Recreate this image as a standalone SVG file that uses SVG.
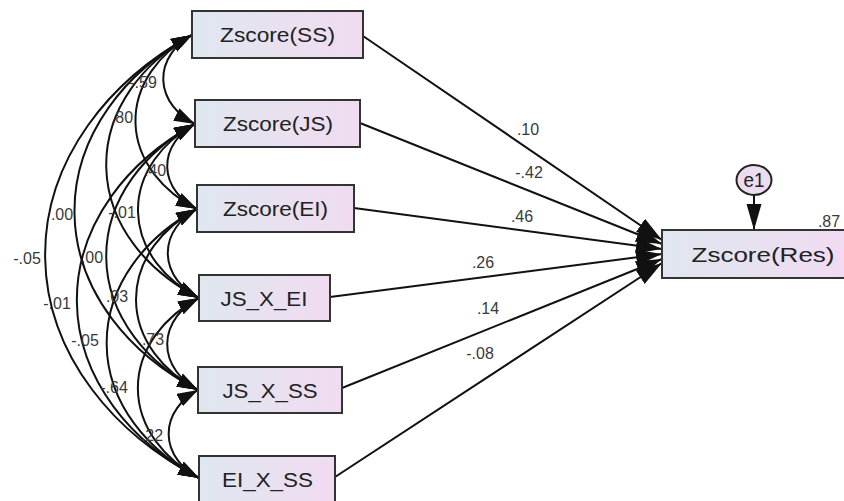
<svg xmlns="http://www.w3.org/2000/svg" width="844" height="501" viewBox="0 0 844 501">
<defs>
<linearGradient id="boxfill" x1="0" y1="0" x2="1" y2="0">
<stop offset="0" stop-color="#dfe7ef"/>
<stop offset="1" stop-color="#f1dbf1"/>
</linearGradient>
<marker id="ah" markerUnits="userSpaceOnUse" markerWidth="24" markerHeight="16" refX="21" refY="7" orient="auto-start-reverse">
<path d="M0,0 L21,7 L0,14 Z" fill="#111"/>
</marker>
<marker id="ahb" markerUnits="userSpaceOnUse" markerWidth="28" markerHeight="18" refX="26" refY="8" orient="auto">
<path d="M0,0 L26,8 L0,16 Z" fill="#111"/>
</marker>
<marker id="ahe" markerUnits="userSpaceOnUse" markerWidth="28" markerHeight="18" refX="26" refY="7.5" orient="auto">
<path d="M0,0 L26,7.5 L0,15 Z" fill="#111"/>
</marker>
</defs>
<style>
.box{fill:url(#boxfill);stroke:#333;stroke-width:2}
.nt{font-family:"Liberation Sans",Arial,sans-serif;font-size:20px;fill:#222;text-anchor:middle}
.lbl{font-family:"Liberation Sans",Arial,sans-serif;font-size:16px;fill:#3a3a3a;text-anchor:middle}
.reg{fill:none;stroke:#111;stroke-width:2;marker-end:url(#ahb)}
.cov{fill:none;stroke:#111;stroke-width:2;marker-start:url(#ah);marker-end:url(#ah)}
</style>
<rect width="844" height="501" fill="#fff"/>

<g id="connectors">
<g id="regressions">
<line class="reg" x1="363" y1="36" x2="662" y2="240"/>
<line class="reg" x1="360" y1="123" x2="662" y2="244"/>
<line class="reg" x1="354" y1="208" x2="662" y2="249"/>
<line class="reg" x1="330" y1="297" x2="662" y2="254"/>
<line class="reg" x1="342" y1="388" x2="662" y2="259"/>
<line class="reg" x1="335" y1="477" x2="662" y2="263"/>
<line x1="754" y1="195" x2="754" y2="230" stroke="#111" stroke-width="2" marker-end="url(#ahe)"/>
</g>
<g id="covariances">
<path class="cov" d="M192,35 A70.4,54.2 0 0 0 195,124"/>
<path class="cov" d="M192,35 A137.6,106 0 0 0 197,209"/>
<path class="cov" d="M192,35 A208,160.2 0 0 0 199,298"/>
<path class="cov" d="M192,35 A280.8,216.2 0 0 0 198,390"/>
<path class="cov" d="M192,35 A350.4,269.8 0 0 0 199,478"/>
<path class="cov" d="M195,124 A67.2,51.8 0 0 0 197,209"/>
<path class="cov" d="M195,124 A137.6,106 0 0 0 199,298"/>
<path class="cov" d="M195,124 A210.4,162 0 0 0 198,390"/>
<path class="cov" d="M195,124 A280,215.6 0 0 0 199,478"/>
<path class="cov" d="M197,209 A70.4,54.2 0 0 0 199,298"/>
<path class="cov" d="M197,209 A143.2,110.2 0 0 0 198,390"/>
<path class="cov" d="M197,209 A212.8,163.8 0 0 0 199,478"/>
<path class="cov" d="M199,298 A72.8,56 0 0 0 198,390"/>
<path class="cov" d="M199,298 A142.4,109.6 0 0 0 199,478"/>
<path class="cov" d="M198,390 A69.6,53.6 0 0 0 199,478"/>
</g>
</g>

<g id="labels">
<text class="lbl" x="143" y="88">-.59</text>
<text class="lbl" x="122" y="123">.80</text>
<text class="lbl" x="155" y="176">.40</text>
<text class="lbl" x="62" y="220">.00</text>
<text class="lbl" x="122" y="218">-.01</text>
<text class="lbl" x="27" y="264">-.05</text>
<text class="lbl" x="92" y="263">.00</text>
<text class="lbl" x="57" y="309">-.01</text>
<text class="lbl" x="117" y="302">.03</text>
<text class="lbl" x="85" y="346">-.05</text>
<text class="lbl" x="153" y="345">.73</text>
<text class="lbl" x="114" y="393">-.64</text>
<text class="lbl" x="152" y="441">.22</text>
<text class="lbl" x="528" y="135">.10</text>
<text class="lbl" x="529" y="178">-.42</text>
<text class="lbl" x="522" y="222">.46</text>
<text class="lbl" x="483" y="268">.26</text>
<text class="lbl" x="488" y="314">.14</text>
<text class="lbl" x="480" y="359">-.08</text>
<text class="lbl" x="829" y="227">.87</text>
</g>

<g id="n_ss">
<rect class="box" x="192" y="11" width="171" height="47"/>
<text class="nt" x="277.5" y="42" textLength="115" lengthAdjust="spacingAndGlyphs">Zscore(SS)</text>
</g>
<g id="n_js">
<rect class="box" x="195" y="100" width="165" height="47"/>
<text class="nt" x="278" y="131" textLength="110" lengthAdjust="spacingAndGlyphs">Zscore(JS)</text>
</g>
<g id="n_ei">
<rect class="box" x="197" y="185" width="157" height="47"/>
<text class="nt" x="275.5" y="216" textLength="105" lengthAdjust="spacingAndGlyphs">Zscore(EI)</text>
</g>
<g id="n_jsxei">
<rect class="box" x="199" y="275" width="131" height="46"/>
<text class="nt" x="264" y="305.5" textLength="87" lengthAdjust="spacingAndGlyphs">JS_X_EI</text>
</g>
<g id="n_jsxss">
<rect class="box" x="198" y="367" width="144" height="46"/>
<text class="nt" x="270" y="397.5" textLength="95" lengthAdjust="spacingAndGlyphs">JS_X_SS</text>
</g>
<g id="n_eixss">
<rect class="box" x="199" y="456" width="136" height="48"/>
<text class="nt" x="267.5" y="487" textLength="91" lengthAdjust="spacingAndGlyphs">EI_X_SS</text>
</g>
<g id="n_res">
<rect class="box" x="662" y="230" width="186" height="48"/>
<text class="nt" x="763" y="261.5" font-size="21" textLength="143" lengthAdjust="spacingAndGlyphs">Zscore(Res)</text>
</g>
<g id="n_e1">
<ellipse cx="754" cy="180" rx="17.5" ry="15" fill="#ecdcf0" stroke="#222" stroke-width="2"/>
<text class="nt" x="754" y="186.5" font-size="18" textLength="21" lengthAdjust="spacingAndGlyphs">e1</text>
</g>
</svg>
